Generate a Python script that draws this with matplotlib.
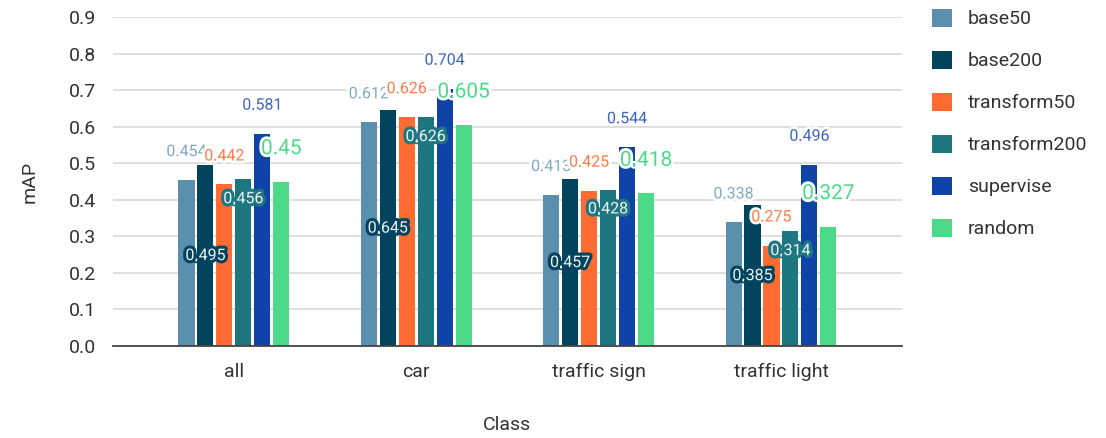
import matplotlib
matplotlib.use("Agg")
import matplotlib.pyplot as plt
import matplotlib.patheffects as pe
import numpy as np

plt.rcParams["font.family"] = ["Roboto", "DejaVu Sans"]

classes = ["all", "car", "traffic sign", "traffic light"]
series = ["base50", "base200", "transform50", "transform200", "supervise", "random"]

base50 = [0.454, 0.612, 0.413, 0.338]
base200 = [0.495, 0.645, 0.457, 0.385]
transform50 = [0.442, 0.626, 0.425, 0.275]
transform200 = [0.456, 0.626, 0.428, 0.314]
supervise = [0.581, 0.704, 0.544, 0.496]
random_ = [0.45, 0.605, 0.418, 0.327]

values = [base50, base200, transform50, transform200, supervise, random_]
colors = ["#5a8fad", "#02445e", "#ff6b30", "#1e7780", "#1043a8", "#4cda8a"]
label_colors = ["#7fabc4", None, "#ff7a44", None, "#3b63c6", "#4cda8a"]

fig = plt.figure(figsize=(11.06, 4.38), dpi=100)
ax = fig.add_axes([0.102, 0.21, 0.7136, 0.751])

x = np.arange(len(classes))
pitch = 0.104
width = 0.088
for i, (name, vals, c) in enumerate(zip(series, values, colors)):
    pos = x + (i - 2.5) * pitch
    ax.bar(pos, vals, width, color=c, label=name, zorder=2)

# value labels: outside ones sit above the bar with a white halo,
# base200 / transform200 are printed inside their bars
for i, (vals, c, lc) in enumerate(zip(values, colors, label_colors)):
    pos = x + (i - 2.5) * pitch
    for px, v in zip(pos, vals):
        txt = f"{v:g}"
        if i == 1:
            ax.text(px, v / 2, txt, ha="center", va="center", fontsize=11.5,
                    color="#eef2f4", zorder=5,
                    path_effects=[pe.withStroke(linewidth=4.5, foreground=c)])
        elif i == 3:
            ax.text(px, v - 0.053, txt, ha="center", va="center", fontsize=11.5,
                    color="#eef2f4", zorder=5,
                    path_effects=[pe.withStroke(linewidth=4.5, foreground=c)])
        else:
            off = 0.09 if i == 5 else 0.078
            fs = 15 if i == 5 else 11.5
            ax.text(px, v + off, txt, ha="center", va="center", fontsize=fs,
                    color=lc, zorder=4 + i * 0.1,
                    path_effects=[pe.withStroke(linewidth=4, foreground="white")])

ax.set_xlim(-0.664, 3.664)
ax.set_ylim(0, 0.9)
ax.set_yticks(np.arange(0, 0.91, 0.1))
ax.set_yticklabels([f"{t:.1f}" for t in np.arange(0, 0.91, 0.1)])
ax.set_xticks(x)
ax.set_xticklabels(classes)
ax.tick_params(axis="both", length=0, labelsize=14, colors="#333333")
ax.tick_params(axis="x", pad=12)
ax.tick_params(axis="y", pad=12)
ax.yaxis.grid(True, color="#d9d9d9", linewidth=1.2, zorder=0)
ax.set_axisbelow(True)
for s in ["top", "right", "left"]:
    ax.spines[s].set_visible(False)
ax.spines["bottom"].set_color("#444444")
ax.spines["bottom"].set_linewidth(1.3)
ax.spines["bottom"].set_zorder(3)

ax.set_ylabel("mAP", fontsize=14, color="#333333", va="center")
ax.yaxis.set_label_coords(-0.105, 0.5)
ax.set_xlabel("Class", fontsize=14, color="#333333", va="center")
ax.xaxis.set_label_coords(0.5, -0.24)

leg = ax.legend(loc="upper left", bbox_to_anchor=(1.028, 1.049), frameon=False,
                fontsize=14, handlelength=1.05, handleheight=1.05,
                labelspacing=1.15, handletextpad=0.8, borderaxespad=0)
for t in leg.get_texts():
    t.set_color("#333333")

fig.savefig("out.png", dpi=100)
